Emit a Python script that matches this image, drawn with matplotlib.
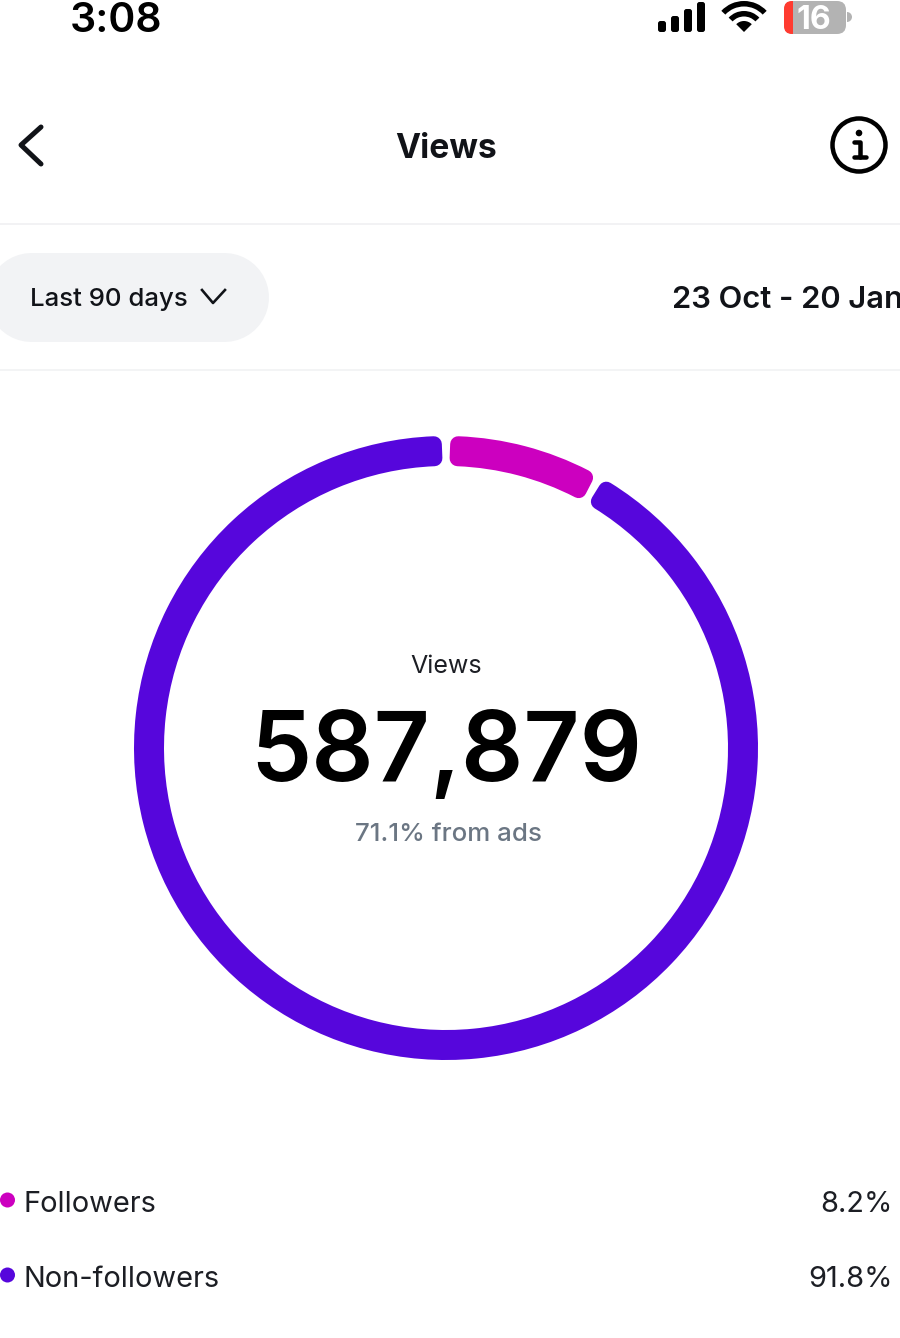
import matplotlib
matplotlib.use('Agg')
import matplotlib.pyplot as plt
from matplotlib.patches import Wedge, Circle, FancyBboxPatch

# data
categories = ['Followers', 'Non-followers']
shares = [8.2, 91.8]
total_views = '587,879'
ads_label = '71.1% from ads'
center_label = 'Views'
range_label = 'Last 90 days'
date_label = '23 Oct - 20 Jan'
clock = '3:08'
battery = '16'

PURPLE = '#5606DC'
MAGENTA = '#CC00BF'
colors = [MAGENTA, PURPLE]

plt.rcParams['font.family'] = ['Inter', 'DejaVu Sans']

fig = plt.figure(figsize=(9, 13.38), dpi=100)
# one axes over the whole figure, units are pixels, y goes down
ax = fig.add_axes([0, 0, 1, 1])
ax.set_xlim(0, 900)
ax.set_ylim(1338, 0)
ax.axis('off')

PX = 0.72  # points per pixel at dpi 100


def label(x, y, s, size, weight='normal', color='#111318', ha='left', **kw):
    return ax.text(x, y, s, fontsize=size * PX, fontweight=weight, color=color,
                   ha=ha, va='baseline', **kw)


def pill(x, y, w, h, r, color, zorder=2):
    ax.add_patch(FancyBboxPatch((x + r, y + r), w - 2 * r, h - 2 * r,
                                boxstyle='round,pad=%f,rounding_size=%f' % (r, r),
                                fc=color, ec='none', zorder=zorder))


# status bar
label(70, 32, clock, 41, weight='semibold', color='black')
for bx, top in zip([658, 671, 684, 697], [21, 16, 9, 2]):
    pill(bx, top, 8, 32 - top, 2.5, 'black')
# wifi
ax.add_patch(Wedge((744, 32), 11, -135, -45, fc='black', ec='none'))
ax.add_patch(Wedge((744, 32), 21, -137, -43, width=5.5, fc='black', ec='none'))
ax.add_patch(Wedge((744, 32), 31, -137, -43, width=5.5, fc='black', ec='none'))
# battery
pill(784, 1, 62, 33, 9, '#B3B3B3')
pill(784, 1, 16, 33, 8, '#FF3B30', zorder=3)
ax.fill_between([793, 801], 1, 34, color='#B3B3B3', lw=0, zorder=3)
ax.add_patch(Wedge((847, 17), 5, -90, 90, fc='#B3B3B3', ec='none'))
label(814, 29, battery, 32, weight='bold', color='white', ha='center', zorder=4)

# header
ax.plot([41, 21, 41], [127, 145, 164], color='#111318', lw=5 * PX, solid_capstyle='round',
        solid_joinstyle='round')
label(446, 158, center_label, 33.6, weight='bold', ha='center')
ax.add_patch(Circle((859, 145), 26.5, fc='none', ec='black', lw=4.5 * PX))
ax.add_patch(Circle((859, 133), 3.3, fc='black', ec='none'))
ax.plot([854, 860, 860], [142, 142, 157], color='black', lw=4.5 * PX, solid_capstyle='round')
ax.plot([854, 866], [157, 157], color='black', lw=4.5 * PX, solid_capstyle='round')
ax.plot([0, 900], [224, 224], color='#EEEFF1', lw=1.5 * PX)

# filter row, a thick round-capped line gives a true pill shape
ax.plot([31, 223.5], [296.5, 296.5], color='#F2F3F5', lw=89 * PX, solid_capstyle='round', zorder=2)
label(30, 306, range_label, 25.8, weight='medium', zorder=4)
ax.plot([202, 213, 225], [290, 303, 290], color='#111318', lw=2.6 * PX, zorder=4)
label(672, 308, date_label, 31, weight='semibold', zorder=4)
ax.plot([0, 900], [370, 370], color='#F0F1F3', lw=1.5 * PX)

# donut, clockwise from the top (y axis is inverted so angles already run clockwise)
cx, cy = 446, 748
r_out, r_in = 312, 282
corner = 8
gap = 0.75
start = -90
for share, col in zip(shares, colors):
    sweep = share / sum(shares) * 360
    pad = corner / 297.0 * 57.3 + gap
    ax.add_patch(Wedge((cx, cy), r_out - corner, start + pad, start + sweep - pad,
                       width=r_out - r_in - 2 * corner, fc=col, ec=col,
                       lw=2 * corner * PX, joinstyle='round'))
    start += sweep

# centre labels
label(446, 673, center_label, 25, ha='center', color='#1C1E24')
label(446, 781, total_views, 97.5, weight='semibold', ha='center', color='black')
label(448, 841, ads_label, 25.9, weight='medium', ha='center', color='#6B7683')

# legend rows
for cat, val, col, ly in zip(categories, shares, colors, [1200, 1275]):
    ax.add_patch(Circle((7.5, ly), 7.5, fc=col, ec='none'))
    label(24, ly + 12, cat, 29, color='#1C1E24')
    label(893, ly + 12, '%.1f%%' % val, 29, ha='right', color='#1C1E24')

fig.savefig('out.png', dpi=100)
